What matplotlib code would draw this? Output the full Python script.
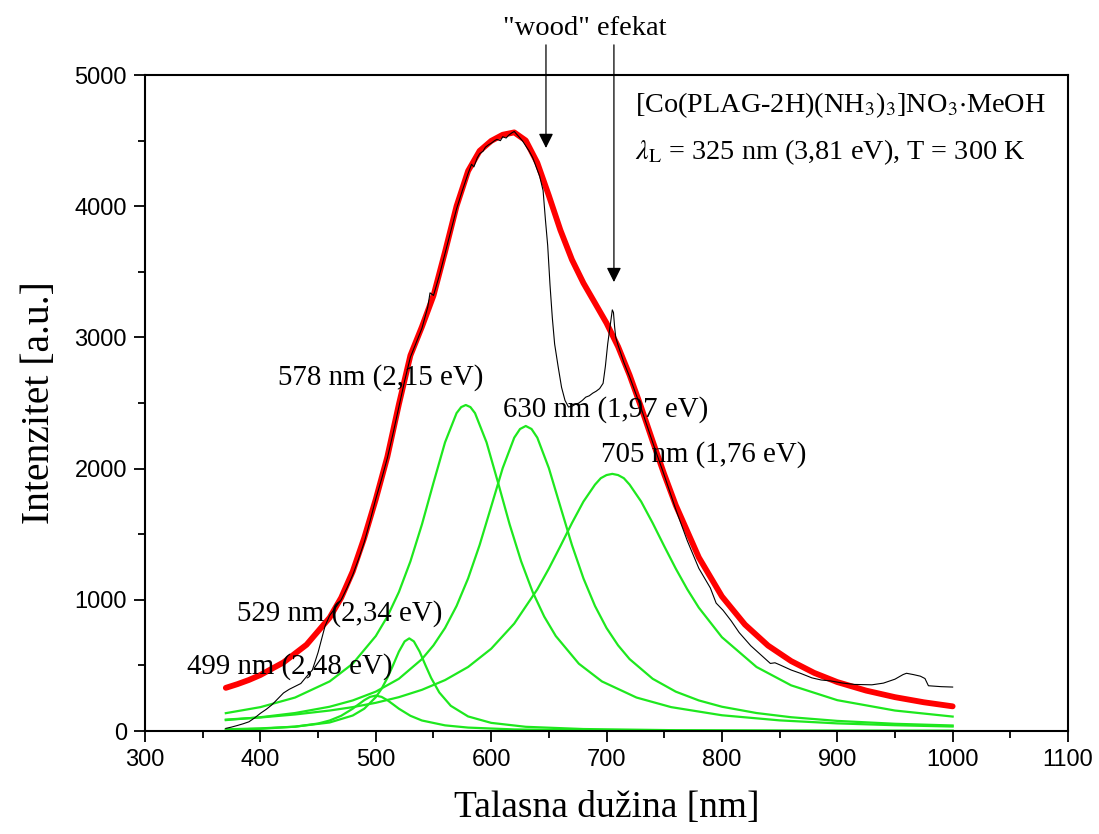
import matplotlib
matplotlib.use("Agg")
import matplotlib.pyplot as plt
from matplotlib.ticker import MultipleLocator

plt.rcParams["font.family"] = ["Liberation Serif", "DejaVu Serif"]
plt.rcParams["mathtext.fontset"] = "stix"

# measured PL spectrum (black)
wl_meas = [370, 375, 380, 385, 390, 395, 400, 405, 410, 415,
           420, 425, 430, 435, 440, 445, 450, 453, 456, 460,
           465, 470, 475, 480, 485, 490, 495, 500, 505, 510,
           515, 520, 525, 530, 535, 540, 545, 547, 550, 555,
           560, 565, 570, 575, 580, 583, 585, 588, 590, 593,
           595, 598, 600, 603, 605, 608, 610, 613, 615, 618,
           620, 622, 624, 627, 630, 633, 636, 639, 642, 645,
           647, 649, 651, 653, 655, 658, 661, 664, 667, 670,
           673, 676, 679, 682, 685, 688, 691, 694, 697, 699,
           701, 703, 705, 706, 707, 708, 710, 715, 720, 730,
           740, 750, 760, 770, 780, 790, 795, 801, 808, 815,
           825, 835, 842, 846, 850, 860, 868, 878, 886, 894,
           905, 915, 930, 940, 950, 957, 960, 966, 972, 976,
           979, 990, 1000]
int_meas = [20, 30, 42, 55, 70, 100, 135, 165, 200, 245,
            290, 318, 340, 362, 415, 465, 600, 700, 800, 880,
            940, 1000, 1090, 1190, 1310, 1440, 1600, 1770, 1920, 2080,
            2270, 2470, 2670, 2850, 2960, 3070, 3230, 3340, 3320, 3470,
            3640, 3810, 3980, 4120, 4250, 4320, 4300, 4370, 4400, 4420,
            4450, 4470, 4480, 4500, 4510, 4500, 4530, 4520, 4540, 4560,
            4570, 4550, 4530, 4500, 4460, 4420, 4370, 4300, 4230, 4120,
            3900, 3700, 3400, 3150, 2950, 2780, 2620, 2520, 2470, 2475,
            2490, 2500, 2520, 2545, 2555, 2575, 2590, 2610, 2650, 2780,
            2950, 3080, 3210, 3190, 3080, 3000, 2940, 2810, 2700, 2460,
            2200, 1950, 1690, 1450, 1240, 1090, 975, 920, 840, 750,
            650, 570, 515, 520, 505, 465, 440, 405, 389, 382,
            365, 355, 352, 365, 395, 430, 440, 430, 418, 400,
            345, 338, 335]

# cumulative fit (red)
wl_fit = [370, 380, 390, 400, 420, 440, 460, 470, 480, 490, 500, 510, 520, 530,
          540, 550, 560, 570, 580, 590, 600, 610, 620, 630, 640, 650, 660, 670,
          680, 690, 700, 710, 720, 730, 740, 750, 760, 780, 800, 820, 840, 860,
          880, 900, 925, 950, 975, 1000]
int_fit = [329, 357, 389, 427, 523, 658, 864, 1016, 1216, 1473, 1767, 2090, 2490, 2863,
           3082, 3319, 3652, 4001, 4269, 4422, 4498, 4545, 4563, 4501, 4331, 4081, 3818, 3593,
           3414, 3262, 3109, 2930, 2713, 2468, 2209, 1957, 1721, 1323, 1026, 811, 651, 533,
           443, 373, 308, 258, 219, 188]

# fitted peaks (green)
wl_499 = [370, 400, 430, 450, 460, 470, 480, 485, 490, 495, 500, 505, 510, 515,
          520, 530, 540, 560, 580, 620, 680, 760, 860, 1000]
int_499 = [10, 17, 33, 57, 80, 116, 170, 203, 235, 260, 270, 260, 235, 203,
           170, 116, 80, 43, 26, 12, 6, 3, 1, 1]

wl_529 = [370, 400, 430, 460, 480, 490, 500, 505, 510, 515, 520, 525, 529, 533,
          538, 543, 548, 555, 565, 580, 600, 630, 680, 760, 860, 1000]
int_529 = [13, 20, 33, 65, 118, 170, 258, 322, 404, 502, 605, 683, 706, 683,
           605, 502, 404, 294, 192, 111, 62, 32, 15, 6, 3, 2]

wl_578 = [370, 400, 430, 460, 480, 500, 510, 520, 530, 540, 550, 560, 570, 574, 578,
          582, 586, 596, 606, 616, 626, 636, 646, 656, 676, 696, 726, 756, 800,
          850, 900, 950, 1000]
int_578 = [136, 182, 255, 378, 513, 724, 872, 1059, 1293, 1575, 1892, 2200, 2423, 2469, 2485,
           2469, 2423, 2200, 1892, 1575, 1293, 1059, 872, 724, 513, 378, 255, 182, 120,
           81, 58, 44, 34]

wl_630 = [370, 400, 430, 460, 480, 500, 520, 540, 550, 560, 570, 580, 590, 600, 610,
          620, 625, 630, 635, 640, 650, 660, 670, 680, 690, 700, 710, 720, 740, 760,
          780, 800, 830, 860, 900, 950, 1000]
int_630 = [83, 105, 137, 185, 233, 300, 398, 548, 653, 785, 953, 1163, 1418, 1710, 2004,
           2236, 2302, 2325, 2302, 2236, 2004, 1710, 1418, 1163, 953, 785, 653, 548, 398, 300,
           233, 185, 137, 105, 77, 55, 42]

wl_705 = [370, 400, 430, 460, 480, 500, 520, 540, 560, 580, 600, 620, 640, 650, 660,
          670, 680, 690, 695, 700, 705, 710, 715, 720, 730, 740, 750, 760, 770, 780, 800, 830,
          860, 900, 950, 1000]
int_705 = [87, 103, 126, 156, 182, 215, 258, 314, 388, 488, 627, 819, 1080, 1238, 1409,
           1585, 1749, 1878, 1927, 1951, 1960, 1951, 1927, 1878, 1749, 1585, 1409, 1238, 1080, 940, 715, 488,
           348, 235, 156, 110]

peaks = [(wl_499, int_499), (wl_529, int_529), (wl_578, int_578),
         (wl_630, int_630), (wl_705, int_705)]

peak_labels = ["499 nm (2,48 eV)", "529 nm (2,34 eV)", "578 nm (2,15 eV)",
               "630 nm (1,97 eV)", "705 nm (1,76 eV)"]
label_pos = [(336, 488), (380, 892), (415, 2698), (610, 2454), (695, 2104)]

fig = plt.figure(figsize=(10.99, 8.34), dpi=100)
ax = fig.add_axes([0.132, 0.1235, 0.8398, 0.7865])

green = "#1ee81e"
for xs, ys in peaks:
    ax.plot(xs, ys, color=green, lw=1.6, zorder=2)
ax.plot(wl_fit, int_fit, color="#ff0000", lw=4.2, zorder=3, solid_capstyle="round")
ax.plot(wl_meas, int_meas, color="black", lw=0.8, zorder=4)

for txt, (x, y) in zip(peak_labels, label_pos):
    ax.text(x, y, txt, fontsize=20.8, va="center", ha="left", zorder=5)

ax.text(725, 4771, r"[Co(PLAG-2H)(NH$_3$)$_3$]NO$_3$$\cdot$MeOH",
        fontsize=20.3, va="center", ha="left")
ax.text(725, 4413, r"$\lambda_{\mathrm{L}}$ = 325 nm (3,81 eV), T = 300 K",
        fontsize=20.3, va="center", ha="left")

# "wood" effect arrows
ax.text(681, 5358, '"wood" efekat', fontsize=20.5, ha="center", va="center",
        clip_on=False)
for x_arr, y_tip in [(647.5, 4444), (706.4, 3422)]:
    ax.annotate("", xy=(x_arr, y_tip), xytext=(x_arr, 5230),
                arrowprops=dict(arrowstyle="-|>", color="black", lw=0.9,
                                mutation_scale=22, shrinkA=0, shrinkB=0),
                annotation_clip=False)

ax.set_xlim(300, 1100)
ax.set_ylim(0, 5000)
ax.xaxis.set_major_locator(MultipleLocator(100))
ax.xaxis.set_minor_locator(MultipleLocator(50))
ax.yaxis.set_major_locator(MultipleLocator(1000))
ax.yaxis.set_minor_locator(MultipleLocator(500))
ax.tick_params(which="both", direction="out", width=1.3, top=False, right=False)
ax.tick_params(which="major", length=8, pad=5)
ax.tick_params(which="minor", length=5)
for lab in ax.get_xticklabels() + ax.get_yticklabels():
    lab.set_fontfamily("Liberation Sans")
    lab.set_fontsize(17)
for sp in ax.spines.values():
    sp.set_linewidth(1.5)

ax.set_xlabel("Talasna dužina [nm]", fontsize=27, labelpad=14)
ax.set_ylabel("Intenzitet [a.u.]", fontsize=28.5, labelpad=12)

fig.savefig("out.png", dpi=100)
